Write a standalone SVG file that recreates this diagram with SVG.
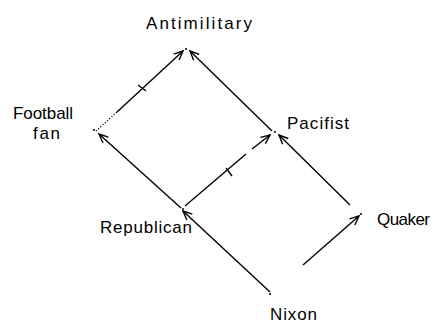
<svg xmlns="http://www.w3.org/2000/svg" width="441" height="326" viewBox="0 0 441 326">
<style>
.lbl{font-family:"Liberation Sans",Arial,sans-serif;font-size:17px;fill:#000}
.e{stroke:#000;stroke-width:1.4;fill:none;marker-end:url(#ah)}
.p{stroke:#000;stroke-width:1.4;fill:none}
.bar{stroke:#000;stroke-width:1.4}
.dot{fill:#000}
</style>
<defs>
<marker id="ah" markerWidth="12" markerHeight="12" refX="10" refY="5" orient="auto" markerUnits="userSpaceOnUse">
<path d="M1,1 L10,5 L1,9" fill="none" stroke="#000" stroke-width="1.4"/>
</marker>
</defs>
<rect width="441" height="326" fill="#fff"/>
<g id="connectors">
<path class="e" d="M117,112 L183,51"/>
<path class="p" d="M96,131 L117,112" stroke-dasharray="1,2" stroke-width="0.8"/>
<line class="bar" x1="138" y1="85" x2="146" y2="91"/>
<path class="e" d="M272,131 L190,51"/>
<path class="p" d="M185,206 L246,154"/>
<path class="e" d="M252,149 L270,135"/>
<line class="bar" x1="226" y1="168" x2="232" y2="176"/>
<path class="e" d="M350,205 L279,135"/>
<path class="e" d="M181,208 L99,134"/>
<path class="e" d="M270,292 L183,211"/>
<path class="e" d="M303,265 L359,216"/>
</g>
<g id="antimilitary"><circle class="dot" cx="186" cy="49" r="1"/><text class="lbl" x="146" y="29" textLength="106">Antimilitary</text></g>
<g id="football-fan"><circle class="dot" cx="94" cy="130" r="1"/><text class="lbl" x="13" y="119" textLength="60">Football</text><text class="lbl" x="33" y="139" textLength="27">fan</text></g>
<g id="pacifist"><circle class="dot" cx="275" cy="132" r="1"/><text class="lbl" x="287" y="129" textLength="62">Pacifist</text></g>
<g id="republican"><circle class="dot" cx="183" cy="209" r="1"/><text class="lbl" x="100" y="233" textLength="92">Republican</text></g>
<g id="quaker"><circle class="dot" cx="361" cy="214" r="1"/><text class="lbl" x="377" y="225" textLength="53">Quaker</text></g>
<g id="nixon"><circle class="dot" cx="270" cy="294" r="1"/><text class="lbl" x="270" y="320" textLength="47">Nixon</text></g>
</svg>
